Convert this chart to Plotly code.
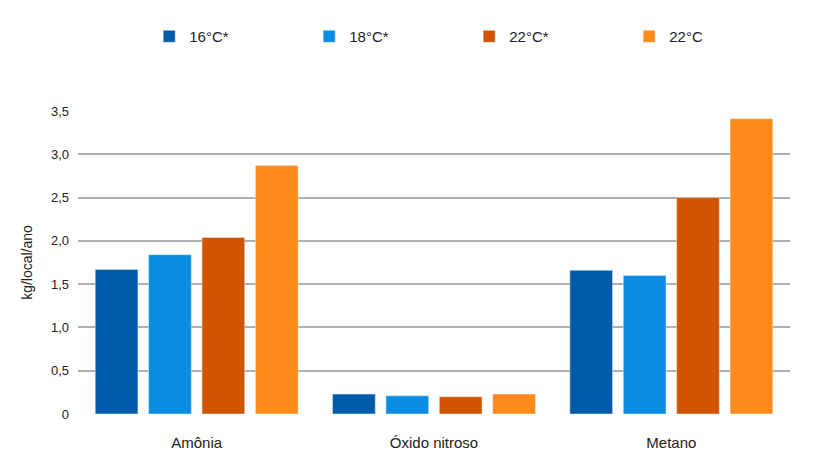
import plotly.graph_objects as go

categories = ["Amônia", "Óxido nitroso", "Metano"]
series = ["16°C*", "18°C*", "22°C*", "22°C"]
values = [
    [1.67, 0.23, 1.66],
    [1.84, 0.21, 1.60],
    [2.04, 0.20, 2.50],
    [2.87, 0.23, 3.41],
]
colors = ["#005ca9", "#0a8ce3", "#d35400", "#ff8a1c"]
tick_vals = [0, 0.5, 1, 1.5, 2, 2.5, 3, 3.5]
tick_text = ["0", "0,5", "1,0", "1,5", "2,0", "2,5", "3,0", "3,5"]

fig = go.Figure()
for name, vals, c in zip(series, values, colors):
    fig.add_trace(go.Bar(name=name, x=categories, y=vals, marker_color=c))

fig.update_layout(
    barmode="group",
    bargap=0.1,
    bargroupgap=0.2,
    width=820, height=462,
    paper_bgcolor="white", plot_bgcolor="white",
    font=dict(family="Liberation Sans, Arial", size=13, color="#222"),
    margin=dict(l=70, r=38, t=88, b=56),
    showlegend=True,
    legend=dict(orientation="h", x=0.1, y=1.3, xanchor="left",
                entrywidth=115, itemwidth=30, font=dict(size=15)),
    xaxis=dict(tickfont=dict(size=15), ticks="", ticklabelstandoff=18),
    yaxis=dict(range=[0, 3.5], tickvals=tick_vals, ticktext=tick_text,
               gridcolor="#b0b0b0", gridwidth=2, zeroline=False,
               title=dict(text="kg/local/ano", font=dict(size=14)),
               ticklabelstandoff=8),
)
fig.write_html("out.html")
